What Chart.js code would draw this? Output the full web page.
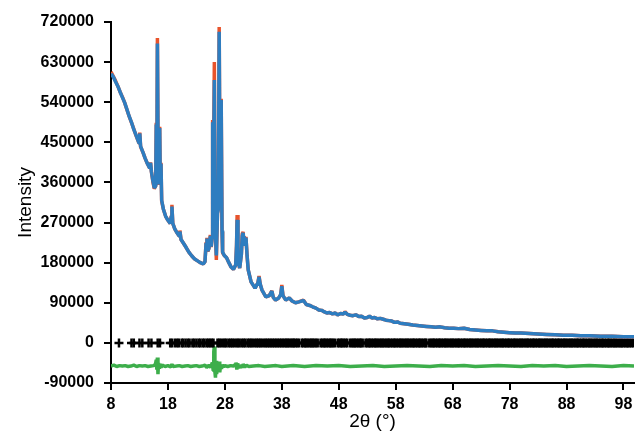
<!DOCTYPE html>
<html>
<head>
<meta charset="utf-8">
<script src="https://cdn.jsdelivr.net/npm/chart.js@4"></script>
<style>
  html, body { margin: 0; padding: 0; background: #fff; }
  #wrap { width: 641px; height: 433px; }
</style>
</head>
<body>
<div id="wrap"><canvas id="xrdChart"></canvas></div>
<script>
// intensities are in thousands of counts
const twoTheta = [
  8.0, 8.4, 8.8, 9.2, 9.6, 10.0, 10.4, 10.8, 11.2, 11.6, 12.0, 12.4, 12.8, 12.95, 13.05, 13.2,
  13.6, 14.0, 14.4, 14.8, 14.95, 15.1, 15.35, 15.6, 15.85, 15.95, 16.05, 16.15, 16.3, 16.42, 16.55, 16.65,
  16.78, 16.9, 17.2, 17.6, 18.0, 18.4, 18.6, 18.7, 18.85, 19.2, 19.6, 19.95, 20.1, 20.3, 20.7, 21.2,
  21.7, 22.2, 22.7, 23.2, 23.7, 24.2, 24.5, 24.7, 24.85, 25.0, 25.2, 25.45, 25.6, 25.75, 25.85, 25.95,
  26.15, 26.3, 26.5, 26.7, 26.85, 27.0, 27.15, 27.35, 27.5, 27.6, 27.9, 28.3, 28.7, 29.1, 29.5, 29.9,
  30.05, 30.15, 30.3, 30.6, 30.9, 31.05, 31.2, 31.4, 31.55, 31.7, 31.9, 32.1, 32.6, 33.3, 33.8, 34.0,
  34.2, 34.5, 35.2, 35.8, 36.25, 36.5, 36.9, 37.4, 37.8, 38.0, 38.2, 38.7, 39.3, 39.8, 40.4, 41.0,
  41.8, 42.3, 42.9, 43.4, 44.0, 44.5, 45.0, 45.4, 45.9, 46.4, 46.9, 47.4, 47.8, 48.3, 48.8, 49.1,
  49.5, 50.0, 50.5, 51.0, 51.5, 52.0, 52.5, 53.0, 53.4, 53.8, 54.3, 54.8, 55.3, 55.8, 56.3, 56.8,
  57.3, 57.8, 58.3, 58.8, 59.5, 60.2, 61.0, 61.8, 62.6, 63.4, 64.2, 65.0, 65.8, 66.6, 67.4, 68.2,
  69.0, 70.0, 71.0, 72.0, 73.0, 74.0, 75.0, 76.0, 77.0, 78.0, 79.0, 80.0, 81.5, 83.0, 84.5, 86.0,
  87.5, 89.0, 90.5, 92.0, 94.0, 96.0, 98.0, 99.85
];
const observed = [
  608, 598, 588, 576, 563, 552, 539, 523, 508, 494, 480, 465, 452, 448, 472, 440,
  428, 414, 402, 392, 405, 384, 362, 346, 352, 494, 360, 684, 362, 355, 485, 365,
  404, 318, 300, 284, 275, 268, 285, 310, 268, 256, 247, 240, 252, 232, 224, 214,
  203, 195, 188, 184, 180, 177, 182, 225, 236, 205, 212, 242, 215, 235, 500, 300,
  630, 260, 186, 292, 300, 709, 330, 548, 250, 202, 196, 191, 180, 170, 165, 175,
  220, 287, 185, 168, 200, 245, 249, 218, 236, 238, 195, 164, 137, 123, 135, 150,
  132, 119, 103, 106, 117, 102, 96, 100, 108, 130, 106, 96, 101, 94, 90, 92,
  96, 86, 84, 81, 78, 74, 73, 70, 67, 68, 65, 67, 63, 66, 65, 70,
  64, 62, 61, 63, 59, 60, 56, 57, 60, 56, 57, 54, 55, 53, 51, 50,
  49, 46, 47, 44, 43, 42, 40, 39, 38, 37, 36, 35, 36, 34, 33, 33,
  32, 33, 30, 29, 28, 27, 27, 25, 24, 23, 22, 22, 21, 20, 19, 18,
  17, 17, 16, 16, 15, 15, 14, 14
];
const calculated = [
  604, 597, 586, 576, 563, 551, 539, 524, 508, 495, 479, 466, 452, 448, 470, 441,
  428, 414, 402, 392, 404, 384, 364, 348, 352, 490, 362, 672, 362, 356, 482, 365,
  402, 320, 300, 284, 275, 268, 284, 306, 268, 256, 247, 240, 250, 232, 224, 214,
  203, 195, 188, 184, 180, 177, 182, 224, 234, 206, 212, 240, 216, 234, 495, 302,
  590, 262, 196, 290, 300, 698, 332, 545, 252, 204, 196, 191, 180, 170, 165, 175,
  218, 276, 186, 168, 199, 240, 247, 218, 235, 236, 196, 164, 137, 123, 135, 148,
  132, 119, 103, 106, 116, 102, 96, 100, 108, 127, 106, 96, 101, 94, 90, 92,
  95, 86, 84, 81, 78, 74, 73, 70, 67, 68, 65, 67, 63, 66, 65, 69,
  64, 62, 61, 63, 59, 60, 56, 57, 60, 56, 57, 54, 55, 53, 51, 50,
  49, 46, 47, 44, 43, 42, 40, 39, 38, 37, 36, 35, 36, 34, 33, 33,
  32, 33, 30, 29, 28, 27, 27, 25, 24, 23, 22, 22, 21, 20, 19, 18,
  17, 17, 16, 16, 15, 15, 14, 14
];

// difference curve (obs - calc), drawn with an offset below zero
const diffTheta = [
  8.0, 8.5, 9.0, 9.5, 10.0, 10.5, 11.0, 11.5, 12.0, 12.5, 13.0, 13.5, 14.0, 14.5, 15.0, 15.5,
  15.8, 15.95, 16.05, 16.15, 16.25, 16.35, 16.5, 16.65, 16.8, 17.0, 17.5, 18.0, 18.5, 18.7, 18.9, 19.5,
  20.0, 20.5, 21.0, 21.5, 22.0, 22.5, 23.0, 23.5, 24.0, 24.5, 24.8, 25.2, 25.5, 25.8, 25.95, 26.05,
  26.15, 26.25, 26.35, 26.45, 26.55, 26.7, 26.85, 27.0, 27.1, 27.25, 27.4, 27.6, 27.8, 28.0, 28.5, 29.0,
  29.5, 29.8, 29.95, 30.1, 30.25, 30.4, 30.6, 31.0, 31.2, 31.5, 31.8, 32.2, 33.0, 34.0, 35.0, 36.0,
  37.0, 38.0, 39.0, 40.0, 42.0, 44.0, 46.0, 48.0, 50.0, 52.0, 54.0, 56.0, 58.0, 60.0, 62.0, 64.0,
  66.0, 68.0, 70.0, 72.0, 74.0, 76.0, 78.0, 80.0, 82.0, 84.0, 86.0, 88.0, 90.0, 92.0, 94.0, 96.0,
  98.0, 99.85
];
const difference = [
  -52, -50, -53, -51, -52, -51, -53, -52, -50, -53, -51, -52, -51, -53, -52, -51,
  -48, -38, -60, -33, -70, -45, -58, -47, -55, -50, -53, -51, -54, -48, -53, -52,
  -51, -53, -52, -51, -53, -52, -51, -53, -52, -50, -55, -50, -55, -44, -62, -20,
  -8, -65, -78, -40, -70, -48, -60, -42, -66, -50, -58, -49, -54, -51, -53, -51,
  -52, -49, -44, -60, -46, -56, -51, -55, -48, -54, -50, -53, -52, -51, -53, -52,
  -51, -53, -52, -51, -53, -51, -52, -51, -53, -52, -51, -53, -52, -51, -52, -53,
  -51, -52, -51, -53, -52, -51, -52, -53, -51, -52, -51, -53, -52, -51, -52, -53,
  -51, -52
];

// Bragg reflection positions (2θ)
const reflections = [
  9.4, 11.6, 12.0, 13.0, 13.5, 14.6, 15.1, 16.2, 16.6,
  18.4, 18.7, 19.2, 19.6, 19.9, 20.4, 20.7, 21.1, 21.5, 21.8, 22.3, 22.6, 23.0, 23.4, 23.7, 24.1,
  24.4, 24.8, 25.1, 25.4, 25.7, 26.0,
  26.7, 27.0, 27.3, 27.7, 28.0, 28.3, 28.7, 29.0, 29.3, 29.6, 30.0, 30.3, 30.6, 31.0, 31.3, 31.6,
  32.0, 32.3, 32.6, 32.9, 33.3, 33.6, 33.9, 34.2, 34.5, 34.9, 35.2, 35.5, 35.8, 36.1, 36.4, 36.7,
  37.0, 37.3, 37.6, 37.9, 38.2, 38.5, 38.8,
  39.0, 39.3, 39.6, 39.9, 40.1, 40.4, 40.7, 41.0, 41.5, 41.8, 42.1, 42.3, 42.6, 42.9, 43.2, 43.4,
  43.7, 44.0, 44.3, 44.8, 45.1, 45.4, 45.6, 45.9, 46.2, 46.5, 46.7, 47.0, 47.3, 47.8, 48.1, 48.4,
  48.6, 48.9, 49.2, 49.5, 50.0, 50.3, 50.6, 50.8, 51.1, 51.4, 51.7, 51.9, 52.2, 52.7, 53.0, 53.3,
  53.5, 53.8, 54.1, 54.4, 54.6, 54.9, 55.2, 55.5, 55.7, 56.0, 56.3, 56.6, 56.8, 57.1, 57.4, 57.7,
  57.9, 58.2, 58.5, 58.8, 59.0, 59.3, 59.6, 59.9, 60.1, 60.4, 60.7, 61.0, 61.2, 61.5, 61.8, 62.1,
  62.3, 62.6, 62.9, 63.2, 63.4, 63.9, 64.2, 64.5, 64.7, 65.0, 65.3, 65.6, 65.8, 66.1, 66.4, 66.7,
  66.9, 67.2, 67.5, 67.8, 68.0, 68.3, 68.6, 68.9, 69.1, 69.4, 69.7, 70.0, 70.2, 70.5, 70.8, 71.1,
  71.3, 71.6, 71.9, 72.2, 72.4, 72.7, 73.0, 73.3, 73.5, 73.8, 74.1, 74.4, 74.6, 74.9, 75.2, 75.5,
  75.7, 76.0, 76.3, 76.6, 76.8, 77.1, 77.4, 77.7, 77.9, 78.2, 78.5, 78.8, 79.0, 79.3, 79.6, 79.9,
  80.1, 80.4, 80.7, 81.0, 81.2, 81.5, 81.8, 82.1, 82.3, 82.6, 82.9, 83.2, 83.4, 83.7, 84.0, 84.3,
  84.5, 84.8, 85.1, 85.4, 85.6, 85.9, 86.2, 86.5, 86.7, 87.0, 87.3, 87.6, 87.8, 88.1, 88.4, 88.7,
  88.9, 89.2, 89.5, 89.8, 90.0, 90.3, 90.6, 90.9, 91.1, 91.4, 91.7, 92.0, 92.2, 92.5, 92.8, 93.1,
  93.3, 93.6, 93.9, 94.2, 94.4, 94.7, 95.0, 95.3, 95.5, 95.8, 96.1, 96.4, 96.6, 96.9, 97.2, 97.5,
  97.7, 98.0, 98.3, 98.6, 98.8, 99.1, 99.4, 99.7
];

const xTicks = [8, 18, 28, 38, 48, 58, 68, 78, 88, 98];
const yTicks = [-90000, 0, 90000, 180000, 270000, 360000, 450000, 540000, 630000, 720000];

const FONT = 'Liberation Sans, Arial, sans-serif';

const toPoints = (xs, ys) => xs.map((x, i) => ({ x: x, y: ys[i] * 1000 }));

const ctx = document.getElementById('xrdChart').getContext('2d');
new Chart(ctx, {
  type: 'line',
  data: {
    datasets: [
      {
        label: 'Calculated',
        data: toPoints(twoTheta, calculated),
        borderColor: '#2E7DC0',
        borderWidth: 3.5,
        borderJoinStyle: 'bevel',
        pointRadius: 0,
        tension: 0
      },
      {
        label: 'Observed',
        data: toPoints(twoTheta, observed),
        borderColor: '#E8532B',
        borderWidth: 3.5,
        borderJoinStyle: 'bevel',
        pointRadius: 0,
        tension: 0
      },
      {
        label: 'Reflections',
        data: reflections.map(t => ({ x: t, y: 0 })),
        showLine: false,
        pointStyle: 'cross',
        pointRadius: 4.5,
        pointBorderWidth: 2.5,
        pointBorderColor: '#000',
        pointBackgroundColor: '#000'
      },
      {
        label: 'Difference',
        data: toPoints(diffTheta, difference),
        borderColor: '#3DAE4B',
        borderWidth: 3.5,
        borderJoinStyle: 'bevel',
        pointRadius: 0,
        tension: 0
      }
    ]
  },
  options: {
    responsive: true,
    maintainAspectRatio: false,
    animation: false,
    layout: { padding: { top: 22, right: 0, bottom: 0, left: 0 } },
    plugins: {
      legend: { display: false },
      tooltip: { enabled: false }
    },
    scales: {
      x: {
        type: 'linear',
        min: 8,
        max: 99.85,
        afterBuildTicks: s => { s.ticks = xTicks.map(v => ({ value: v })); },
        afterFit: s => { s.height = 50; },
        grid: { drawOnChartArea: false, tickLength: 7, color: '#000', lineWidth: 2 },
        border: { color: '#000', width: 2 },
        ticks: {
          color: '#000',
          padding: 5,
          maxRotation: 0,
          autoSkip: false,
          font: { family: FONT, size: 16, weight: 'bold' }
        },
        title: {
          display: true,
          text: '2θ (°)',
          color: '#000',
          font: { family: FONT, size: 19 },
          padding: { top: 0, bottom: 0 }
        }
      },
      y: {
        min: -90000,
        max: 720000,
        afterBuildTicks: s => { s.ticks = yTicks.map(v => ({ value: v })); },
        afterFit: s => { s.width = 111; },
        grid: { drawOnChartArea: false, tickLength: 7, color: '#000', lineWidth: 2 },
        border: { color: '#000', width: 2 },
        ticks: {
          color: '#000',
          padding: 10,
          font: { family: FONT, size: 16, weight: 'bold' },
          callback: v => String(v)
        },
        title: {
          display: true,
          text: 'Intensity',
          color: '#000',
          font: { family: FONT, size: 19 },
          padding: { top: 14, bottom: 0 }
        }
      }
    }
  }
});
</script>
</body>
</html>
